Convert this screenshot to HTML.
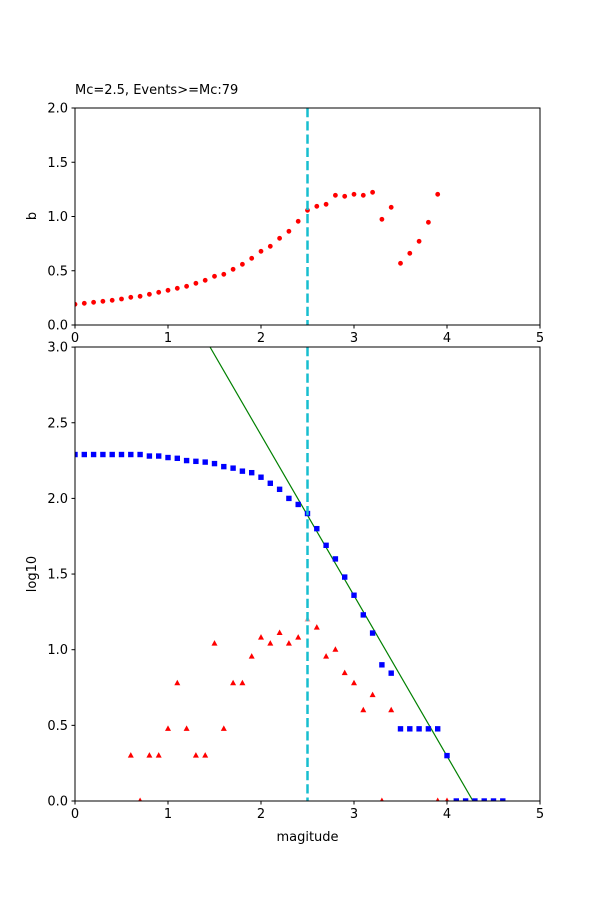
<!DOCTYPE html><html><head><style>body{margin:0;background:#fff}svg{display:block}text{font-family:"DejaVu Sans","Liberation Sans",sans-serif;font-size:13px;fill:#000}</style></head><body>
<svg id="sv" width="600" height="900" xmlns="http://www.w3.org/2000/svg">
<defs><clipPath id="c1"><rect x="75" y="108" width="465" height="217"/></clipPath><clipPath id="c2"><rect x="75" y="347" width="465" height="454"/></clipPath></defs>
<g id="gtop"></g><g id="gbot"></g>
</svg>
<script>
(function(){
const NS="http://www.w3.org/2000/svg";
function el(p,t,a,txt){const e=document.createElementNS(NS,t);for(const k in a)e.setAttribute(k,a[k]);if(txt!=null)e.textContent=txt;p.appendChild(e);return e;}
const gTop=document.getElementById('gtop'),gBot=document.getElementById('gbot');
const X=m=>75+m*93;
const ty=v=>325-v*108.5;
const by=[304.3,303.3,302.3,301.3,300.3,299,297.3,296.3,294.3,292.3,290.3,288.3,286.3,283.3,280.3,276.3,274.3,269.3,264.3,258.3,251.3,246.3,238.3,231.3,221.3,210.3,206.3,204.3,195.3,196.3,194.3,195.3,192.3,219.3,207.3,263.3,253.3,241.3,222.3,194.3];
const gt=el(gTop,'g',{'clip-path':'url(#c1)'});
by.forEach((y,i)=>el(gt,'circle',{cx:X(i*0.1),cy:y,r:2.4,fill:'#f00'}));
el(gt,'line',{x1:307.5,y1:108,x2:307.5,y2:325,stroke:'#17becf',fill:'none','stroke-width':2.5,'stroke-dasharray':'9.25,4'});
el(gTop,'rect',{x:75,y:108,width:465,height:217,fill:'none',stroke:'#000','stroke-width':1});
for(let i=0;i<=5;i++){el(gTop,'line',{x1:X(i),y1:325,x2:X(i),y2:328.5,stroke:'#000'});el(gTop,'text',{x:X(i),y:342,'text-anchor':'middle'},i);}
[0,0.5,1,1.5,2].forEach(v=>{el(gTop,'line',{x1:71.5,y1:ty(v),x2:75,y2:ty(v),stroke:'#000'});el(gTop,'text',{x:68,y:ty(v)+4.5,'text-anchor':'end'},v.toFixed(1));});
el(gTop,'text',{x:36,y:216,'text-anchor':'middle',transform:'rotate(-90 36 216)'},'b');
el(gTop,'text',{x:75,y:94},'Mc=2.5, Events>=Mc:79');
const Y=v=>801-v*151.3;
const gb=el(gBot,'g',{'clip-path':'url(#c2)'});
const bl=[2.29,2.29,2.29,2.29,2.29,2.29,2.29,2.29,2.28,2.28,2.27,2.265,2.25,2.245,2.24,2.23,2.21,2.2,2.18,2.17,2.14,2.1,2.06,2.0,1.96,1.9,1.8,1.69,1.6,1.48,1.36,1.23,1.11,0.9,0.845,0.477,0.477,0.477,0.477,0.477,0.3,0,0,0,0,0,0];
const rd=[[0.6,.3],[0.7,0],[0.8,.3],[0.9,.3],[1,.477],[1.1,.778],[1.2,.477],[1.3,.3],[1.4,.3],[1.5,1.04],[1.6,.477],[1.7,.778],[1.8,.778],[1.9,.954],[2,1.08],[2.1,1.04],[2.2,1.11],[2.3,1.04],[2.4,1.08],[2.5,1.2],[2.6,1.146],[2.7,.954],[2.8,1.0],[2.9,.845],[3,.778],[3.1,.6],[3.2,.7],[3.3,0],[3.4,.6],[3.9,0],[4,0]];
rd.forEach(([m,v])=>{const x=X(m),y=Y(v);el(gb,'polygon',{points:`${x},${y-3.5} ${x+3},${y+2} ${x-3},${y+2}`,fill:'#f00',opacity:m==2.5?0.4:1});});
el(gb,'line',{x1:210,y1:347,x2:473,y2:801,stroke:'#008000','stroke-width':1.2});
bl.forEach((v,i)=>el(gb,'rect',{x:X(i*0.1)-2.7,y:Y(v)-2.7,width:5.4,height:5.4,fill:'#00f'}));
el(gb,'line',{x1:307.5,y1:347,x2:307.5,y2:801,stroke:'#17becf',fill:'none','stroke-width':2.5,'stroke-dasharray':'9.25,4'});
el(gBot,'rect',{x:75,y:347,width:465,height:454,fill:'none',stroke:'#000','stroke-width':1});
for(let i=0;i<=5;i++){el(gBot,'line',{x1:X(i),y1:801,x2:X(i),y2:804.5,stroke:'#000'});el(gBot,'text',{x:X(i),y:818,'text-anchor':'middle'},i);}
[0,0.5,1,1.5,2,2.5,3].forEach(v=>{el(gBot,'line',{x1:71.5,y1:Y(v),x2:75,y2:Y(v),stroke:'#000'});el(gBot,'text',{x:68,y:Y(v)+4.5,'text-anchor':'end'},v.toFixed(1));});
el(gBot,'text',{x:307.5,y:841,'text-anchor':'middle'},'magitude');
el(gBot,'text',{x:36,y:574,'text-anchor':'middle',transform:'rotate(-90 36 574)'},'log10');
})();
</script>
</body></html>
